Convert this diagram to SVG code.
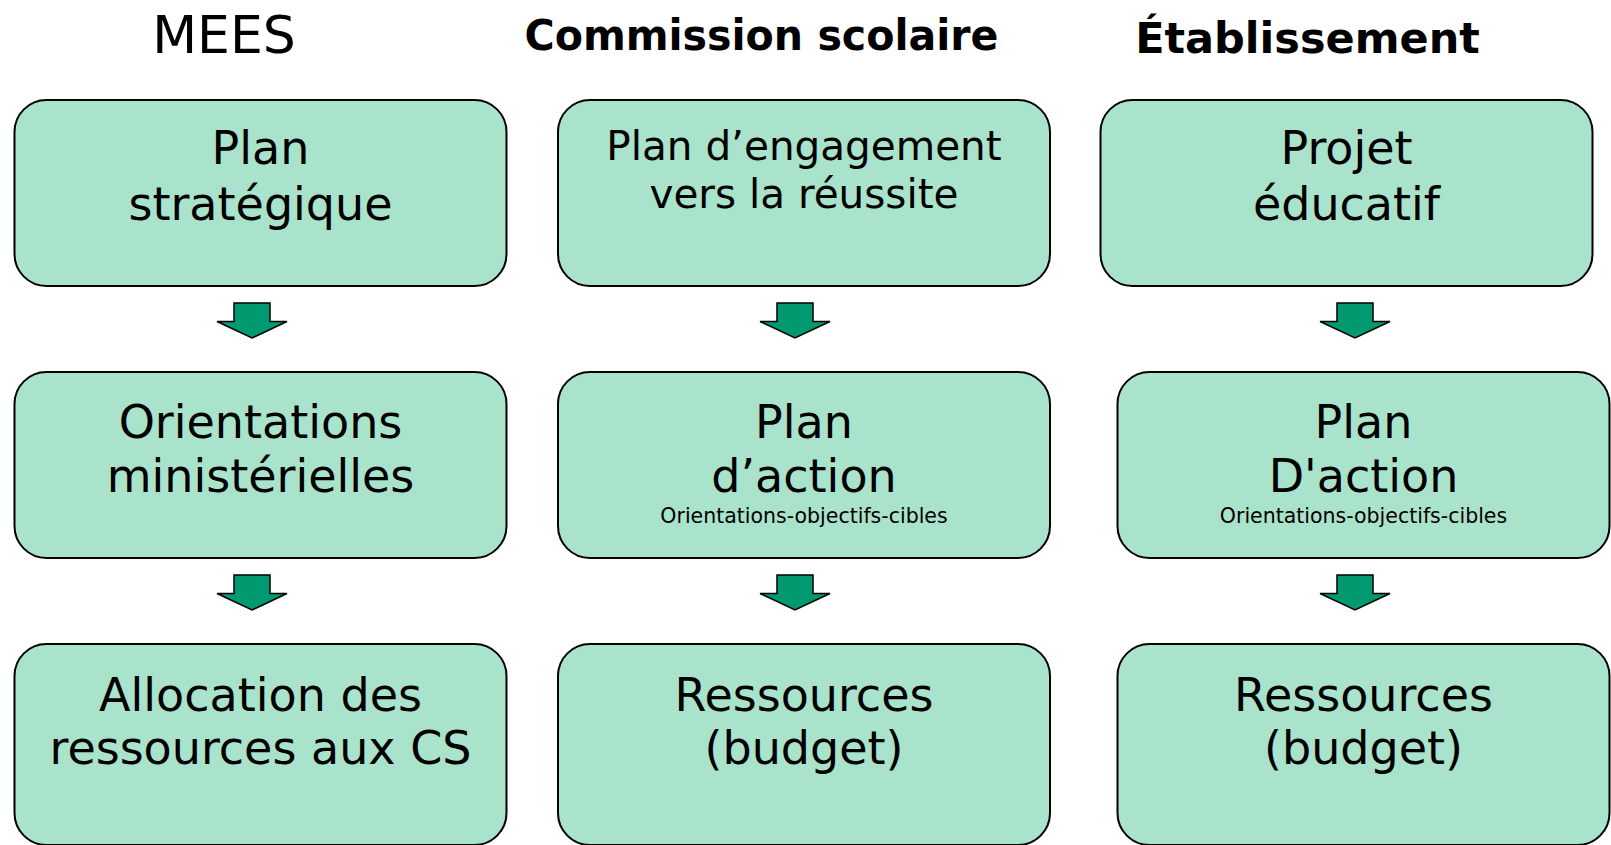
<svg xmlns="http://www.w3.org/2000/svg" width="1611" height="845" viewBox="0 0 1611 845">
  <style>
    .box { fill: #aae3cb; stroke: #000; stroke-width: 2; }
    .arrow { fill: #009970; stroke: #000; stroke-width: 1.5; stroke-linejoin: miter; }
    .t { font-family: "DejaVu Sans", Verdana, sans-serif; fill: #000; text-anchor: middle; }
    .big { font-size: 46px; }
    .mid { font-size: 40.5px; }
    .small { font-size: 20.5px; }
    .hdr { font-size: 43px; font-weight: bold; }
  </style>
  <defs>
    <path id="arr" class="arrow" d="M -18 0 L 18 0 L 18 18.5 L 35 18.5 L 0 35 L -35 18.5 L -18 18.5 Z"/>
  </defs>
  <rect width="1611" height="845" fill="#fff"/>

  <g id="headers">
    <text class="t" x="224" y="53" font-size="52">MEES</text>
    <text class="t hdr" x="761.5" y="50" textLength="474" lengthAdjust="spacingAndGlyphs">Commission scolaire</text>
    <text class="t hdr" x="1307.5" y="53">Établissement</text>
  </g>

  <g id="connectors">
    <use href="#arr" x="252" y="303"/>
    <use href="#arr" x="795" y="303"/>
    <use href="#arr" x="1355" y="303"/>
    <use href="#arr" x="252" y="575"/>
    <use href="#arr" x="795" y="575"/>
    <use href="#arr" x="1355" y="575"/>
  </g>

  <g id="plan-strategique">
    <rect class="box" x="14.5" y="100" width="492" height="186" rx="32"/>
    <text class="t big" x="260.5" y="164">Plan</text>
    <text class="t big" x="260.5" y="220">stratégique</text>
  </g>
  <g id="plan-engagement">
    <rect class="box" x="558" y="100" width="492" height="186" rx="32"/>
    <text class="t mid" x="804" y="160">Plan d’engagement</text>
    <text class="t mid" x="804" y="208">vers la réussite</text>
  </g>
  <g id="projet-educatif">
    <rect class="box" x="1100.5" y="100" width="492" height="186" rx="32"/>
    <text class="t big" x="1346.5" y="164">Projet</text>
    <text class="t big" x="1346.5" y="220">éducatif</text>
  </g>

  <g id="orientations">
    <rect class="box" x="14.5" y="372" width="492" height="186" rx="32"/>
    <text class="t big" x="260.5" y="438">Orientations</text>
    <text class="t big" x="260.5" y="492">ministérielles</text>
  </g>
  <g id="plan-action-cs">
    <rect class="box" x="558" y="372" width="492" height="186" rx="32"/>
    <text class="t big" x="804" y="438">Plan</text>
    <text class="t big" x="804" y="492">d’action</text>
    <text class="t small" x="804" y="522.5">Orientations-objectifs-cibles</text>
  </g>
  <g id="plan-action-etab">
    <rect class="box" x="1117.5" y="372" width="492" height="186" rx="32"/>
    <text class="t big" x="1363.5" y="438">Plan</text>
    <text class="t big" x="1363.5" y="492">D'action</text>
    <text class="t small" x="1363.5" y="522.5">Orientations-objectifs-cibles</text>
  </g>

  <g id="allocation">
    <rect class="box" x="14.5" y="644" width="492" height="201" rx="32"/>
    <text class="t big" x="260.5" y="710.5">Allocation des</text>
    <text class="t big" x="260.5" y="764">ressources aux CS</text>
  </g>
  <g id="ressources-cs">
    <rect class="box" x="558" y="644" width="492" height="201" rx="32"/>
    <text class="t big" x="804" y="710.5">Ressources</text>
    <text class="t big" x="804" y="764">(budget)</text>
  </g>
  <g id="ressources-etab">
    <rect class="box" x="1117.5" y="644" width="492" height="201" rx="32"/>
    <text class="t big" x="1363.5" y="710.5">Ressources</text>
    <text class="t big" x="1363.5" y="764">(budget)</text>
  </g>
</svg>
